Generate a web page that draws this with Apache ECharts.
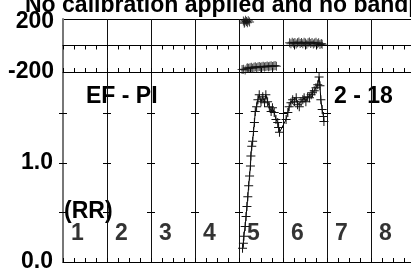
<!DOCTYPE html>
<html>
<head>
<meta charset="utf-8">
<script src="https://cdn.jsdelivr.net/npm/echarts@6/dist/echarts.min.js"></script>
<style>
  html, body { margin: 0; padding: 0; background: #fff; }
  #main { width: 411px; height: 277px; }
</style>
</head>
<body>
<div id="main"></div>
<script type="text/javascript">
// 上面板：相位 (度)
var phaseHigh = [[4.10,185],[4.12,168],[4.13,176],[4.15,190],[4.17,181],[4.19,171],[4.21,186],[4.24,178]];
var phaseLow = [[4.07,-182],[4.10,-179],[4.14,-184],[4.18,-171],[4.20,-167],[4.22,-174],[4.25,-168],[4.28,-164],
  [4.31,-171],[4.34,-165],[4.37,-160],[4.40,-167],[4.43,-162],[4.46,-158],[4.49,-165],[4.52,-160],
  [4.55,-156],[4.58,-163],[4.61,-158],[4.64,-154],[4.67,-161],[4.70,-156],[4.73,-152],[4.76,-159],
  [4.79,-155],[4.82,-151],[4.85,-157]];
var phaseMid = [[5.15,20],[5.18,14],[5.21,25],[5.24,17],[5.27,22],[5.30,11],[5.33,20],[5.36,27],
  [5.39,15],[5.42,22],[5.45,13],[5.48,24],[5.51,18],[5.54,9],[5.57,20],[5.60,27],[5.63,16],
  [5.66,22],[5.69,12],[5.72,18],[5.75,25],[5.78,14],[5.81,20],[5.84,8],[5.87,15],[5.89,10]];
// 下面板：振幅
var ampData = [[4.08,0.14],[4.10,0.19],[4.11,0.26],[4.14,0.36],[4.16,0.46],[4.18,0.56],[4.20,0.66],
  [4.22,0.77],[4.24,0.87],[4.26,0.97],[4.27,1.07],[4.29,1.17],[4.31,1.22],[4.33,1.32],[4.35,1.41],
  [4.37,1.52],[4.40,1.57],[4.43,1.64],[4.46,1.69],[4.50,1.62],[4.54,1.67],[4.58,1.61],[4.61,1.69],
  [4.65,1.62],[4.69,1.57],[4.73,1.52],[4.76,1.56],[4.80,1.51],[4.84,1.44],[4.88,1.41],[4.90,1.36],
  [4.92,1.31],[5.07,1.44],[5.11,1.51],[5.14,1.57],[5.18,1.61],[5.22,1.64],[5.26,1.62],[5.30,1.66],
  [5.33,1.59],[5.37,1.57],[5.41,1.62],[5.45,1.64],[5.48,1.66],[5.52,1.62],[5.56,1.67],[5.60,1.66],
  [5.64,1.69],[5.67,1.71],[5.71,1.73],[5.75,1.76],[5.79,1.79],[5.82,1.87],[5.84,1.78],[5.86,1.64],
  [5.89,1.54],[5.92,1.47],[5.93,1.42]];
var colLabels = ['1','2','3','4','5','6','7','8'];
var phaseTicks = [-200, 200];
var ampLabelTicks = [0, 1];
var ampTicks = [0.5, 1.0, 1.5];

var FONT = 'Liberation Sans';
var plus = 'path://M0,4L9,4L9,5L0,5ZM4,0L5,0L5,9L4,9Z';
var UNIT = 44; // 每格宽度

var myChart = echarts.init(document.getElementById('main'));

var xBase = {
    type: 'value', min: 0, max: 8.5, interval: 1,
    axisLabel: { show: false },
    axisLine: { show: true, lineStyle: { color: '#000', width: 1 } },
    axisTick: { show: true, inside: true, length: 4, lineStyle: { color: '#000' } },
    minorTick: { show: true, splitNumber: 4, length: 4, lineStyle: { color: '#000' } }
};

var lblStyle = { color: '#000', fontFamily: FONT, fontWeight: 'bold', fontSize: 23 };

var yAxes = [
    {
        gridIndex: 0, type: 'value', min: -200, max: 200, interval: 200,
        axisLine: { show: true, lineStyle: { color: '#777', width: 2 } },
        axisTick: { show: false },
        splitLine: { show: true, lineStyle: { color: '#000', width: 1 } },
        axisLabel: {
            margin: 9, color: '#000', fontFamily: FONT, fontWeight: 'bold', fontSize: 23,
            rich: {
                top: Object.assign({ padding: [5, 0, 0, 0] }, lblStyle),
                low: Object.assign({}, lblStyle)
            },
            formatter: function (v) {
                if (phaseTicks.indexOf(v) < 0) return '';
                return v > 0 ? '{top|' + v + '}' : '{low|' + v + '}';
            }
        }
    },
    {
        gridIndex: 1, type: 'value', min: 0, max: 1.92, interval: 0.5,
        axisLine: { show: true, lineStyle: { color: '#777', width: 2 } },
        axisTick: { show: false },
        splitLine: { show: false },
        axisLabel: {
            margin: 10, color: '#000', fontFamily: FONT, fontWeight: 'bold', fontSize: 23,
            formatter: function (v) { return ampLabelTicks.indexOf(v) >= 0 ? v.toFixed(1) : ''; }
        }
    }
];
// 每条竖线上的短横刻度
for (var k = 0; k <= 8; k++) {
    yAxes.push({
        gridIndex: 1, type: 'value', min: 0, max: 1.92, interval: 0.5,
        position: 'left', offset: -(UNIT * k + 4),
        axisLine: { show: false },
        axisLabel: { show: false },
        splitLine: { show: false },
        axisTick: { show: true, length: 8, customValues: ampTicks, lineStyle: { color: '#000' } }
    });
}

var colData = [];
for (var i = 0; i < colLabels.length; i++) {
    colData.push({ value: [i + 0.33, 0.29], name: colLabels[i] });
}

var option = {
    animation: false,
    backgroundColor: '#fff',
    title: {
        text: 'No calibration applied and no bandpass',
        left: 25, top: -6, padding: 0,
        textStyle: { fontFamily: FONT, fontWeight: 'bold', fontSize: 23, color: '#000' }
    },
    grid: [
        { left: 63, top: 19, width: UNIT * 8.5, height: 53, outerBoundsMode: 'none', containLabel: false },
        { left: 63, top: 72, width: UNIT * 8.5, height: 190, outerBoundsMode: 'none', containLabel: false }
    ],
    xAxis: [
        Object.assign({}, xBase, { gridIndex: 0, position: 'top',
            splitLine: { show: true, lineStyle: { color: '#111', width: 1 } } }),
        Object.assign({}, xBase, { gridIndex: 0, position: 'bottom', splitLine: { show: false } }),
        Object.assign({}, xBase, { gridIndex: 1, position: 'bottom',
            splitLine: { show: true, lineStyle: { color: '#111', width: 1 } } })
    ],
    yAxis: yAxes,
    graphic: [
        { type: 'text', x: 86, y: 97, style: { text: 'EF - PI', font: 'bold 23px ' + FONT, fill: '#000',
            textVerticalAlign: 'middle', verticalAlign: 'middle' } },
        { type: 'text', x: 334, y: 97, style: { text: '2 - 18', font: 'bold 23px ' + FONT, fill: '#000',
            textVerticalAlign: 'middle', verticalAlign: 'middle' } },
        { type: 'text', x: 64, y: 212, style: { text: '(RR)', font: 'bold 23px ' + FONT, fill: '#000',
            textVerticalAlign: 'middle', verticalAlign: 'middle' } }
    ],
    series: [
        { type: 'scatter', xAxisIndex: 0, yAxisIndex: 0, data: phaseHigh, symbol: plus, symbolSize: 9,
          itemStyle: { color: '#111' } },
        { type: 'scatter', xAxisIndex: 0, yAxisIndex: 0, data: phaseLow, symbol: plus, symbolSize: 9,
          itemStyle: { color: '#111' } },
        { type: 'scatter', xAxisIndex: 0, yAxisIndex: 0, data: phaseMid, symbol: plus, symbolSize: 9,
          itemStyle: { color: '#111' } },
        { type: 'line', xAxisIndex: 2, yAxisIndex: 1, data: ampData, symbol: plus, symbolSize: 9,
          showSymbol: true, clip: false,
          itemStyle: { color: '#111' }, lineStyle: { color: '#000', width: 1 } },
        { type: 'scatter', xAxisIndex: 2, yAxisIndex: 1, data: colData, symbolSize: 0, silent: true,
          label: { show: true, position: 'inside', formatter: '{b}', color: '#000',
                   fontFamily: FONT, fontWeight: 'bold', fontSize: 23 } }
    ]
};
myChart.setOption(option);
</script>
</body>
</html>
